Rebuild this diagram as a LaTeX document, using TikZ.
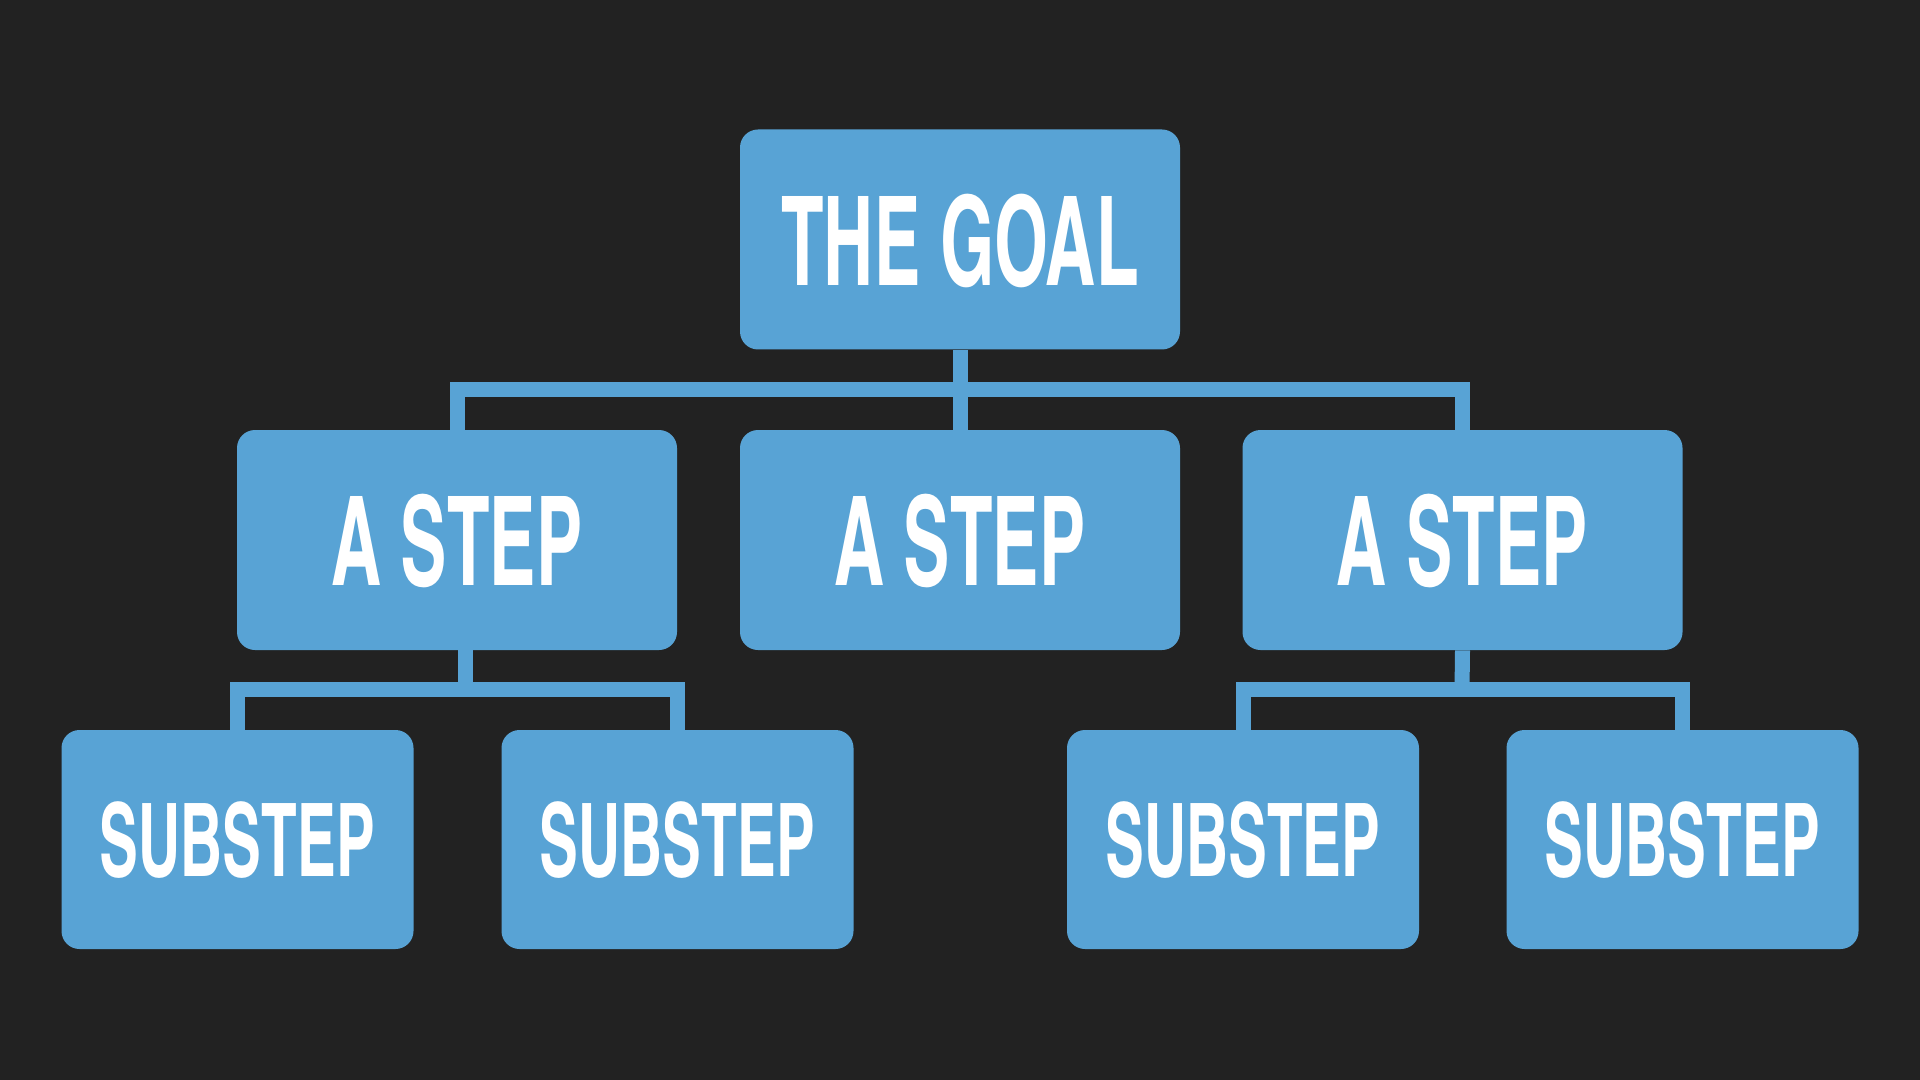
\documentclass[tikz,border=0pt]{standalone}
\usepackage{fontspec}
\setmainfont{texgyreheroscn-bold.otf}
\newfontfamily\bigfont{texgyreheroscn-bold.otf}[FakeStretch=0.685]
\newfontfamily\subfont{texgyreheroscn-bold.otf}[FakeStretch=0.70]
\definecolor{bg}{HTML}{222222}
\definecolor{boxblue}{HTML}{58A3D5}
\tikzset{
  box/.style={fill=boxblue, rounded corners=9pt, inner sep=0pt, text=white,
    font=\bigfont\fontsize{62}{62}\selectfont, text depth=0pt, anchor=center},
  bigbox/.style={box, minimum width=220pt, minimum height=110pt},
  subbox/.style={box, minimum width=176pt, minimum height=109.5pt,
    font=\subfont\fontsize{50.8}{50.8}\selectfont},
  conn/.style={draw=boxblue, line width=7.5pt, line join=miter, line cap=butt}
}
\begin{document}
\begin{tikzpicture}[x=0.5pt,y=-0.5pt]
\fill[bg] (0,0) rectangle (1920,1080);
\useasboundingbox (0,0) rectangle (1920,1080);
\coordinate (j1) at (960,389);
\coordinate (j2) at (465,689.5);
\coordinate (j3) at (1462,689.5);
\node[bigbox] (goal) at (960,239.5) {THE GOAL};
\node[bigbox] (s1) at (457,540) {A STEP};
\node[bigbox] (s2) at (960,540) {A STEP};
\node[bigbox] (s3) at (1462.5,540) {A STEP};
\node[subbox] (u1) at (237.5,839.5) {SUBSTEP};
\node[subbox] (u2) at (677.5,839.5) {SUBSTEP};
\node[subbox] (u3) at (1243,839.5) {SUBSTEP};
\node[subbox] (u4) at (1682.5,839.5) {SUBSTEP};
\draw[conn] (goal.south) -- (s2.north);
\draw[conn] (s1.north) |- (j1) -| (s3.north);
\draw[conn] (j2 |- s1.south) -- (j2);
\draw[conn] (u1.north) |- (j2) -| (u2.north);
\draw[conn] (s3.south) -- (j3);
\draw[conn] (u3.north) |- (j3) -| (u4.north);
\end{tikzpicture}
\end{document}
